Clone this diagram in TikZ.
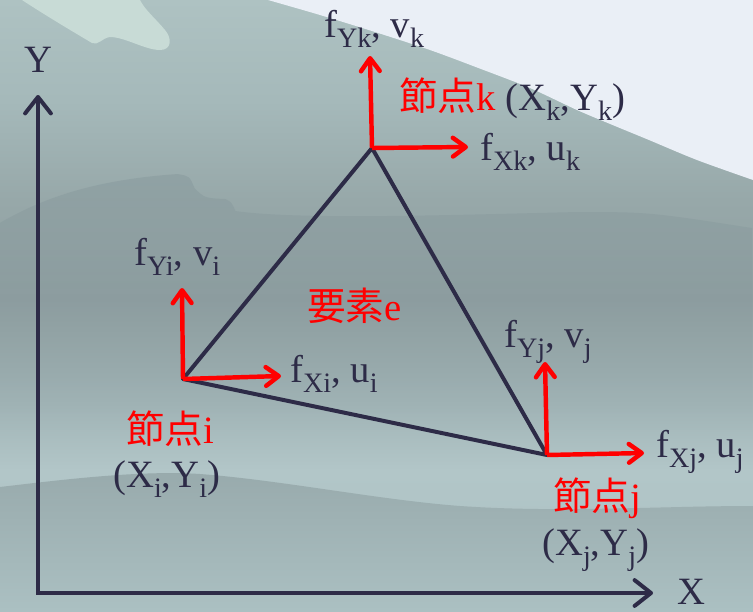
\documentclass[tikz,border=0pt]{standalone}
\usepackage{fontspec}
\setmainfont{Liberation Serif}
\newfontfamily\jpfont[Scale=1.0]{Noto Sans CJK JP}
\usetikzlibrary{arrows.meta,fadings}
\definecolor{ink}{HTML}{2D2B47}
\definecolor{nodered}{HTML}{FF0000}
\definecolor{bgtop}{HTML}{AEC2C2}
\definecolor{bgupper}{HTML}{A5B9BA}
\definecolor{bgmid}{HTML}{97A8A9}
\definecolor{bgdark}{HTML}{8F9FA1}
\definecolor{bglow}{HTML}{A0B3B5}
\definecolor{bglight}{HTML}{B2C6C8}
\definecolor{bgbot}{HTML}{ABC0C2}
\definecolor{hilldark}{HTML}{84969A}
\definecolor{wavetop}{HTML}{98AAAC}
\definecolor{snow}{HTML}{EAEFF6}
\definecolor{mist}{HTML}{C8DBD6}
\newcommand{\subtx}[1]{\raisebox{-0.27em}{\fontsize{24}{24}\selectfont #1}}
\newcommand{\jp}[1]{{\jpfont #1}}
\pgfdeclareverticalshading{landbg}{100bp}{color(0bp)=(bgbot); color(25bp)=(bgbot);
  color(36.5bp)=(bglight); color(42.3bp)=(bglow); color(50.5bp)=(bgdark);
  color(58.6bp)=(bgmid); color(66.8bp)=(bgupper); color(75bp)=(bgtop); color(100bp)=(bgtop)}
\tikzfading[name=fadedown, top color=transparent!55, bottom color=transparent!100]
\tikzset{
  lbl/.style={anchor=base west,inner sep=0pt,text=ink},
  axis/.style={draw=ink,line width=3.4pt,line join=miter,
    {Straight Barb[length=14pt,width=22pt,round]}-{Straight Barb[length=14pt,width=22pt,round]}},
  edge/.style={draw=ink,line width=3.4pt,line join=round},
  force/.style={draw=nodered,line width=3.8pt,
    -{Straight Barb[length=11pt,width=16pt,round]}}
}
\begin{document}
\begin{tikzpicture}[x=0.03cm,y=-0.03cm,font=\fontsize{33}{38}\selectfont]
  \useasboundingbox (0,0) rectangle (753,611);
  % background
  \shade[shading=landbg] (0,0) rectangle (753,611);
  \fill[hilldark,path fading=fadedown] (0,223) .. controls (40,200) and (90,180) .. (178,174)
    .. controls (190,176) .. (195,188) .. controls (205,198) .. (226,199)
    .. controls (232,202) .. (236,211) .. controls (300,220) and (450,215) .. (577,212)
    .. controls (650,212) .. (753,228) -- (753,430) -- (0,430) -- cycle;
  \shade[top color=wavetop,bottom color=bgbot] (0,487) .. controls (60,480) and (140,470) .. (200,474)
    .. controls (280,480) and (380,500) .. (460,506) .. controls (560,513) and (660,506) .. (753,506)
    -- (753,611) -- (0,611) -- cycle;
  \fill[mist] (22,0) .. controls (45,15) and (70,30) .. (92,43) .. controls (98,46) and (102,38) .. (110,37)
    .. controls (125,37) and (145,50) .. (160,50) .. controls (172,50) and (172,38) .. (165,30)
    .. controls (155,18) and (145,10) .. (140,0) -- cycle;
  \fill[snow] plot[smooth] coordinates {(268,0) (320,15) (375,32) (430,50) (481,69) (530,88)
    (577,110) (615,126) (649,140) (697,160) (753,180)} -- (753,0) -- cycle;

  % axes
  \coordinate (orig) at (38,593);
  \coordinate (ytip) at (38,95);
  \coordinate (xtip) at (653,593);
  \draw[axis] (ytip) -- (orig) -- (xtip);
  \node[text=ink,anchor=base] (laxy) at (38,72) {Y};
  \node[text=ink,anchor=base] (laxx) at (691,604) {X};

  % element
  \coordinate (ndi) at (183,379);
  \coordinate (ndk) at (372,148);
  \coordinate (ndj) at (547,455);
  \draw[edge] (ndi) -- (ndk) -- (ndj) -- cycle;

  \coordinate (fyi) at (182,288);
  \coordinate (fxi) at (281,376);
  \coordinate (fyk) at (370,56);
  \coordinate (fxk) at (468,147);
  \coordinate (fyj) at (545,362);
  \coordinate (fxj) at (644,453);
  \foreach \n in {i,j,k}
    {\draw[force] (nd\n) -- (fy\n);
     \draw[force] (nd\n) -- (fx\n);}

  \node[lbl] (lfyk) at (324,37) {f\subtx{Yk}, v\subtx{k}};
  \node[lbl] (lndk) at (399,110) {\textcolor{nodered}{\jp{節点}k} (X\subtx{k},Y\subtx{k})};
  \node[lbl] (lfxk) at (480,160) {f\subtx{Xk}, u\subtx{k}};
  \node[lbl] (lfyi) at (134,265) {f\subtx{Yi}, v\subtx{i}};
  \node[lbl,text=nodered] (lelem) at (307,320) {\jp{要素}e};
  \node[lbl] (lfxi) at (290,382) {f\subtx{Xi}, u\subtx{i}};
  \node[lbl,text=nodered] (lndi) at (126,443) {\jp{節点}i};
  \node[lbl] (lxyi) at (113,487) {(X\subtx{i},Y\subtx{i})};
  \node[lbl] (lfyj) at (504,347) {f\subtx{Yj}, v\subtx{j}};
  \node[lbl] (lfxj) at (656,457) {f\subtx{Xj}, u\subtx{j}};
  \node[lbl,text=nodered] (lndj) at (553,510) {\jp{節点}j};
  \node[lbl] (lxyj) at (542,555) {(X\subtx{j},Y\subtx{j})};
\end{tikzpicture}
\end{document}
